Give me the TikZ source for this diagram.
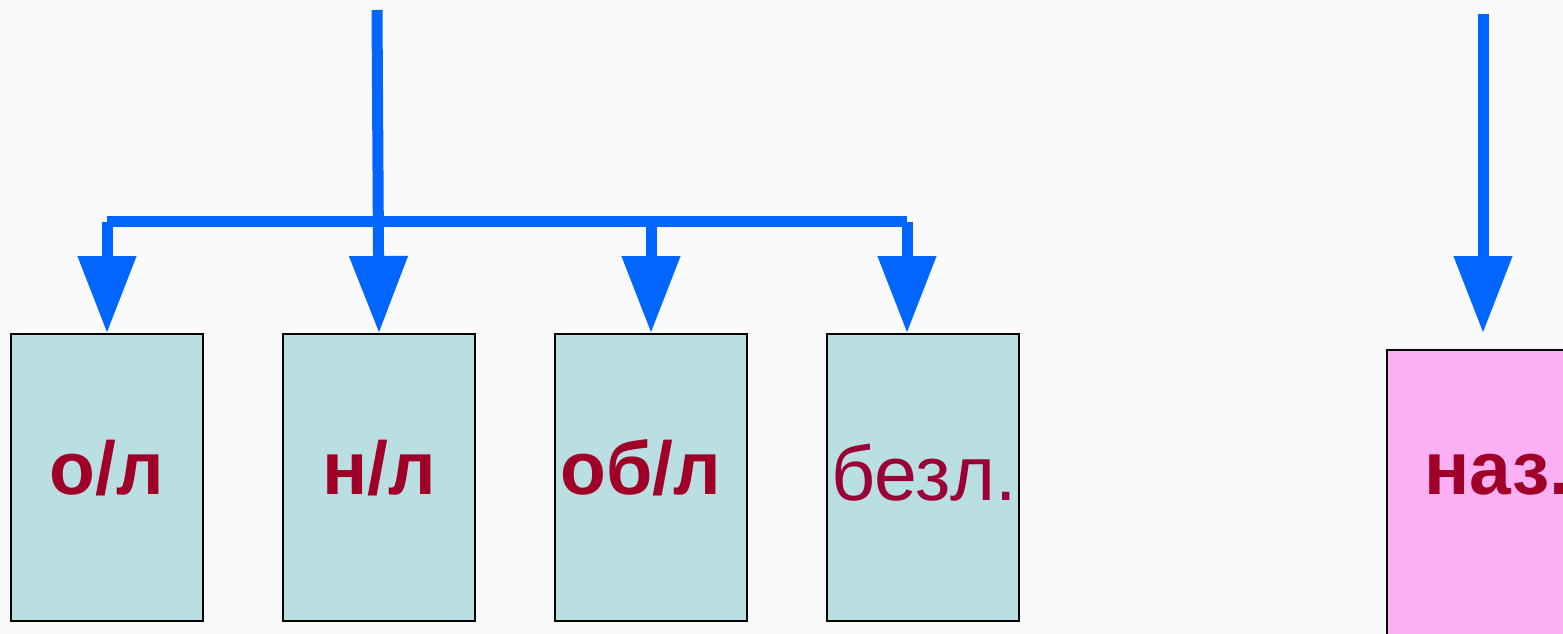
\documentclass[tikz,border=0pt]{standalone}
\usepackage{fontspec}
\setmainfont{Liberation Sans}
\usetikzlibrary{arrows.meta}
\definecolor{bg}{HTML}{FAFAFA}
\definecolor{arrowblue}{HTML}{0066FF}
\definecolor{tealbox}{HTML}{BADFE2}
\definecolor{pinkbox}{HTML}{FBB0F3}
\definecolor{txtred}{HTML}{A00028}
\definecolor{txtred2}{HTML}{9A0036}
\tikzset{
  bar/.style={draw=arrowblue, line width=11pt, line cap=butt},
  arr/.style={bar, -{Triangle[width=56pt 0 1, length=77pt 0 1]}, fill=arrowblue},
  cat/.style={draw=black, line width=2pt, fill=tealbox, minimum width=192pt, minimum height=287pt, inner sep=0pt, anchor=north west},
  lbl/.style={text=txtred, font=\fontsize{75}{90}\selectfont\bfseries, inner sep=0pt, anchor=base}
}
\begin{document}
\begin{tikzpicture}[x=1pt,y=-1pt]
\useasboundingbox (0,0) rectangle (1563,634);
\clip (0,0) rectangle (1563,634);
\fill[bg] (0,0) rectangle (1563,634);
% boxes
\node[cat] (b1) at (10,333) {};
\node[cat] (b2) at (282,333) {};
\node[cat] (b3) at (554,333) {};
\node[cat] (b4) at (826,333) {};
\node[cat, fill=pinkbox, minimum width=220pt, minimum height=320pt] (b5) at (1386,349) {};
% labels
\node[lbl] (t1) at (107,494) {о/л};
\node[lbl] (t2) at (379,494) {н/л};
\node[lbl] (t3) at (641,494) {об/л};
\node[lbl, text=txtred2, font=\fontsize{77}{90}\selectfont] (t4) at (924,500) {безл.};
\node[lbl, anchor=base west] (t5) at (1424,494) {наз.};
% connectors
\coordinate (top1) at (377,10);
\coordinate (hl) at (107,221.5);
\coordinate (hr) at (907,221.5);
\coordinate (d1) at (107,222);
\coordinate (d3) at (651,222);
\coordinate (d4) at (907,222);
\coordinate (tip4) at (907,333);
\coordinate (top2) at (1483,14);
\coordinate (tip2) at (1483,333);
\draw[bar] (hl) -- (hr);
\draw[arr] (top1) -- (b2.north);
\draw[arr] (d1) -- (b1.north);
\draw[arr] (d3) -- (b3.north);
\draw[arr] (d4) -- (tip4);
\draw[arr] (top2) -- (tip2);
\end{tikzpicture}
\end{document}
